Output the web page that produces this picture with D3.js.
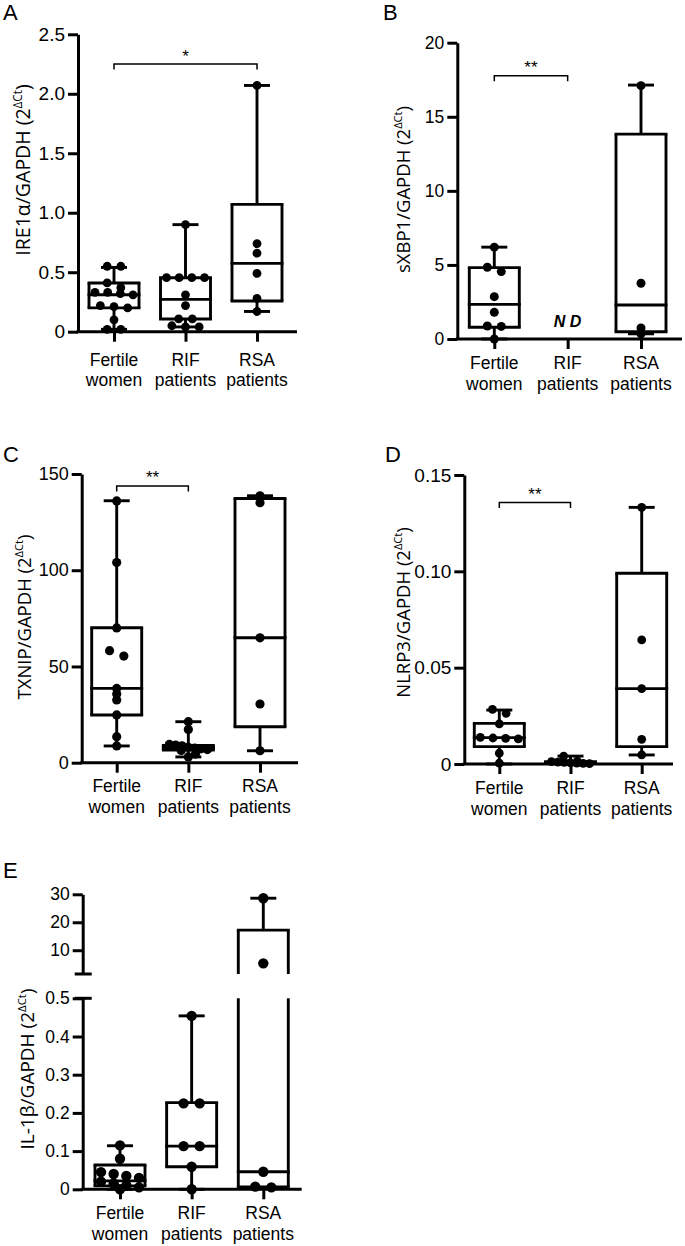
<!DOCTYPE html>
<html>
<head>
<meta charset="utf-8">
<script src="https://cdn.jsdelivr.net/npm/d3@7"></script>
<style>
  html, body { margin: 0; padding: 0; background: #fff; }
  svg { display: block; }
</style>
</head>
<body>
<svg id="chart" width="685" height="1246"></svg>
<script>
// ---------------- DATA ----------------
const categories = ["Fertile women", "RIF patients", "RSA patients"];

// Panel A: IRE1α/GAPDH
const ire1aPoints = [
  [0.55, 0.55, 0.41, 0.37, 0.33, 0.33, 0.32, 0.31, 0.22, 0.21, 0.20, 0.10, 0.02, 0.02],
  [0.90, 0.454, 0.454, 0.454, 0.454, 0.31, 0.22, 0.107, 0.107, 0.05, 0.04, 0.04],
  [2.07, 0.74, 0.66, 0.49, 0.28, 0.17]
];
// [min, q1, median, q3, max]
const ire1aBoxes = [
  [0.02, 0.20, 0.31, 0.41, 0.54],
  [0.04, 0.107, 0.272, 0.454, 0.90],
  [0.17, 0.258, 0.574, 1.07, 2.07]
];
const ire1aTicks = [0, 0.5, 1.0, 1.5, 2.0, 2.5];
const ire1aTickLabels = ["0", "0.5", "1.0", "1.5", "2.0", "2.5"];

// Panel B: sXBP1/GAPDH
const sxbp1Points = [
  [6.2, 4.84, 4.55, 2.86, 1.8, 0.88, 0.85, 0],
  [],
  [17.1, 3.76, 0.75, 0.35]
];
const sxbp1Boxes = [
  [0, 0.79, 2.34, 4.82, 6.2],
  null,
  [0.35, 0.49, 2.3, 13.83, 17.14]
];
const sxbp1Ticks = [0, 5, 10, 15, 20];
const sxbp1TickLabels = ["0", "5", "10", "15", "20"];

// Panel C: TXNIP/GAPDH
const txnipPoints = [
  [136, 104, 70, 58.2, 55.4, 38.6, 35.7, 32.6, 24.8, 13.5, 8.7],
  [21.3, 17.3, 9.5, 9.2, 8.8, 8.0, 7.6, 7.2, 6.8, 6.4, 4.5, 3.0],
  [138.7, 135.1, 64.9, 30.5, 6.2]
];
const txnipBoxes = [
  [8.7, 24.8, 38.6, 70.1, 136.1],
  [3.0, 6.6, 7.6, 9.0, 21.3],
  [6.2, 18.7, 64.9, 137.3, 138.7]
];
const txnipTicks = [0, 50, 100, 150];
const txnipTickLabels = ["0", "50", "100", "150"];

// Panel D: NLRP3/GAPDH
const nlrp3Points = [
  [0.0284, 0.0263, 0.0208, 0.0138, 0.0135, 0.0133, 0.0130, 0.0056, 0.0004],
  [0.0041, 0.0015, 0.0012, 0.0010, 0.0008, 0.0006, 0.0005, 0.0003, 0.0002],
  [0.1332, 0.0644, 0.0391, 0.0128, 0.0047]
];
const nlrp3Boxes = [
  [0.0, 0.009, 0.0137, 0.0211, 0.028],
  [0.0, 0.0003, 0.0008, 0.0012, 0.0041],
  [0.0047, 0.009, 0.0391, 0.099, 0.1332]
];
const nlrp3Ticks = [0, 0.05, 0.10, 0.15];
const nlrp3TickLabels = ["0", "0.05", "0.10", "0.15"];

// Panel E: IL-1β/GAPDH (broken axis)
const il1bPoints = [
  [0.115, 0.08, 0.045, 0.04, 0.035, 0.03, 0.02, 0.015, 0.01, 0.005, 0.0],
  [0.454, 0.225, 0.225, 0.113, 0.113, 0.059, 0.0],
  [28.6, 5.3, 0.046, 0.007, 0.005]
];
const il1bBoxes = [
  [0.0, 0.009, 0.022, 0.0636, 0.114],
  [0.0, 0.059, 0.113, 0.227, 0.454],
  [0.005, 0.006, 0.046, 17.2, 28.6]
];
const il1bLowerTicks = [0, 0.1, 0.2, 0.3, 0.4, 0.5];
const il1bLowerTickLabels = ["0", "0.1", "0.2", "0.3", "0.4", "0.5"];
const il1bUpperTicks = [10, 20, 30];
const il1bUpperTickLabels = ["10", "20", "30"];

// significance brackets: [fromCategoryIndex, toCategoryIndex, value, label]
const ire1aBracket = [0, 2, 2.25, "*"];
const sxbp1Bracket = [0, 1, 17.77, "**"];
const txnipBracket = [0, 1, 143.8, "**"];
const nlrp3Bracket = [0, 1, 0.1357, "**"];

// ---------------- DRAWING ----------------
const svg = d3.select("#chart");
svg.append("rect").attr("width", 685).attr("height", 1246).attr("fill", "#fff");

const SANS = "'Liberation Sans', Arial, sans-serif";
const LABELFONT = "'Open Sans', 'Noto Sans', sans-serif";
const LW = 2.9;

function layoutDots(vals, yPix, cx, r, maxHalf) {
  const pts = vals.map(v => ({ v, py: yPix(v) })).sort((a, b) => a.py - b.py);
  const rows = [];
  let cur = null;
  for (const p of pts) {
    if (!cur || p.py - cur[0].py > r * 1.2) { cur = [p]; rows.push(cur); }
    else cur.push(p);
  }
  rows.forEach(row => {
    const n = row.length;
    const sp = n > 1 ? Math.min(r * 3.1, 2 * maxHalf / (n - 1)) : 0;
    row.forEach((p, i) => { p.px = cx + (i - (n - 1) / 2) * sp; });
  });
  return pts;
}

function styleAxis(sel, fs) {
  sel.select(".domain").attr("stroke", "#000").attr("stroke-width", 3);
  sel.selectAll(".tick line").attr("stroke", "#000").attr("stroke-width", 3);
  sel.selectAll(".tick text").attr("fill", "#000")
    .style("font-family", SANS).style("font-size", fs + "px");
}

function yLabel(g, cfg) {
  const t = g.append("text")
    .attr("transform", `translate(${cfg.ylab[0]},${cfg.ylab[1]}) rotate(-90)`)
    .attr("text-anchor", "middle")
    .style("font-family", LABELFONT)
    .style("font-size", cfg.ylabFs + "px")
    .attr("fill", "#000");
  t.append("tspan").text(cfg.title + " (2");
  t.append("tspan").attr("dy", -8).style("font-size", (cfg.ylabFs * 0.6) + "px").text("ΔCt");
  t.append("tspan").attr("dy", 8).text(")");
}

function commonParts(g, cfg, x, yPix) {
  // panel letter
  g.append("text").attr("x", cfg.letter[0]).attr("y", cfg.letter[1])
    .style("font-family", SANS).style("font-size", "22px").attr("fill", "#000").text(cfg.id);
  // x axis line + ticks
  g.append("line").attr("x1", cfg.axisX - 1.5).attr("x2", cfg.axisRight)
    .attr("y1", cfg.yBottom).attr("y2", cfg.yBottom)
    .attr("stroke", "#000").attr("stroke-width", 3);
  const xAxis = d3.axisBottom(x).tickSize(10).tickSizeOuter(0).tickFormat("");
  const xa = g.append("g").attr("transform", `translate(0,${cfg.yBottom})`).call(xAxis);
  xa.select(".domain").remove();
  xa.selectAll(".tick line").attr("stroke", "#000").attr("stroke-width", 3);
  // category labels
  categories.forEach(c => {
    const parts = c.split(" ");
    const t = g.append("text").attr("text-anchor", "middle")
      .style("font-family", SANS).style("font-size", "17.5px").attr("fill", "#000");
    parts.forEach((p, i) => {
      t.append("tspan").attr("x", x(c)).attr("y", cfg.yBottom + cfg.labelDy + i * 20.5).text(p);
    });
  });
  yLabel(g, cfg);
}

function drawBoxAndDots(g, cfg, x, yPix, vseg, points, boxes) {
  const half = 25, cap = 13;
  categories.forEach((c, i) => {
    const b = boxes[i];
    const cx = x(c);
    if (b) {
      const [mn, q1, med, q3, mx] = b;
      vseg(g, cx, q3, mx);
      vseg(g, cx, mn, q1);
      [mn, mx].forEach(v => {
        g.append("line").attr("x1", cx - cap).attr("x2", cx + cap)
          .attr("y1", yPix(v)).attr("y2", yPix(v))
          .attr("stroke", "#000").attr("stroke-width", LW);
      });
      vseg(g, cx - half, q1, q3, true);
      vseg(g, cx + half, q1, q3, true);
      [q1, med, q3].forEach(v => {
        g.append("line").attr("x1", cx - half - LW / 2).attr("x2", cx + half + LW / 2)
          .attr("y1", yPix(v)).attr("y2", yPix(v))
          .attr("stroke", "#000").attr("stroke-width", LW);
      });
    }
    const pts = layoutDots(points[i], yPix, cx, cfg.r, 19);
    g.selectAll(null).data(pts).enter().append("circle")
      .attr("cx", d => d.px).attr("cy", d => d.py).attr("r", cfg.r).attr("fill", "#000");
  });
}

function bracket(g, x, yPix, br) {
  const [a, b, v, lab] = br;
  const x1 = x(categories[a]), x2 = x(categories[b]), yy = yPix(v);
  g.append("path")
    .attr("d", `M${x1},${yy + 5.5}V${yy}H${x2}V${yy + 5.5}`)
    .attr("fill", "none").attr("stroke", "#000").attr("stroke-width", 1.5);
  g.append("text").attr("x", (x1 + x2) / 2).attr("y", yy - 2.5)
    .attr("text-anchor", "middle").style("font-family", SANS).style("font-size", "17px")
    .attr("fill", "#000").text(lab);
}

function drawPanel(cfg) {
  const g = svg.append("g");
  const x = d3.scalePoint().domain(categories).range([cfg.xFirst, cfg.xLast]);
  const y = d3.scaleLinear().domain(cfg.domain).range([cfg.yBottom, cfg.yTop]);
  const yAxis = d3.axisLeft(y).tickValues(cfg.ticks)
    .tickFormat((d, i) => cfg.tickLabels[i]).tickSize(10).tickSizeOuter(0).tickPadding(3);
  const ya = g.append("g").attr("transform", `translate(${cfg.axisX},0)`).call(yAxis);
  styleAxis(ya, cfg.tickFs);
  commonParts(g, cfg, x, y);
  const vseg = (gg, xx, a, b) => {
    gg.append("line").attr("x1", xx).attr("x2", xx)
      .attr("y1", y(a)).attr("y2", y(b)).attr("stroke", "#000").attr("stroke-width", LW);
  };
  drawBoxAndDots(g, cfg, x, y, vseg, cfg.points, cfg.boxes);
  if (cfg.bracket) bracket(g, x, y, cfg.bracket);
  if (cfg.nd) {
    g.append("text").attr("x", x(categories[cfg.nd])).attr("y", cfg.yBottom - 12.5)
      .attr("text-anchor", "middle").style("font-family", SANS)
      .style("font-size", "16px").style("font-weight", "bold").style("font-style", "italic")
      .attr("fill", "#000").text("N D");
  }
}

drawPanel({
  id: "A", title: "IRE1α/GAPDH", letter: [3, 20], ylab: [30, 170], ylabFs: 19.5,
  axisX: 78, yBottom: 331.7, yTop: 34.3, domain: [0, 2.5],
  xFirst: 114, xLast: 257, axisRight: 297, r: 4.4, tickFs: 19, labelDy: 34,
  ticks: ire1aTicks, tickLabels: ire1aTickLabels,
  points: ire1aPoints, boxes: ire1aBoxes, bracket: ire1aBracket
});
drawPanel({
  id: "B", title: "sXBP1/GAPDH", letter: [383, 20], ylab: [410, 189.5], ylabFs: 18.5,
  axisX: 457.3, yBottom: 339, yTop: 42.7, domain: [0, 20],
  xFirst: 494.3, xLast: 641, axisRight: 682, r: 4.5, tickFs: 17.5, labelDy: 30,
  ticks: sxbp1Ticks, tickLabels: sxbp1TickLabels,
  points: sxbp1Points, boxes: sxbp1Boxes, bracket: sxbp1Bracket, nd: 1
});
drawPanel({
  id: "C", title: "TXNIP/GAPDH", letter: [3, 462], ylab: [31, 617], ylabFs: 18.5,
  axisX: 81.7, yBottom: 762.7, yTop: 474, domain: [0, 150],
  xFirst: 116.7, xLast: 260, axisRight: 298, r: 4.6, tickFs: 18, labelDy: 29.5,
  ticks: txnipTicks, tickLabels: txnipTickLabels,
  points: txnipPoints, boxes: txnipBoxes, bracket: txnipBracket
});
drawPanel({
  id: "D", title: "NLRP3/GAPDH", letter: [385, 462], ylab: [410, 612.5], ylabFs: 18.5,
  axisX: 464.3, yBottom: 764, yTop: 475, domain: [0, 0.15],
  xFirst: 499.3, xLast: 641.7, axisRight: 673, r: 4.4, tickFs: 19, labelDy: 30,
  ticks: nlrp3Ticks, tickLabels: nlrp3TickLabels,
  points: nlrp3Points, boxes: nlrp3Boxes, bracket: nlrp3Bracket
});

// Panel E with broken y axis
(function () {
  const cfg = {
    id: "E", title: "IL-1β/GAPDH", letter: [3, 878], ylab: [34, 1069], ylabFs: 19,
    axisX: 82.7, yBottom: 1189.3, xFirst: 120, xLast: 263.3, axisRight: 301.7,
    r: 5.2, tickFs: 17.5, labelDy: 30
  };
  const lowTop = 998.3, upBottom = 974, upTop = 894.3;
  const g = svg.append("g");
  const x = d3.scalePoint().domain(categories).range([cfg.xFirst, cfg.xLast]);
  const yLow = d3.scaleLinear().domain([0, 0.5]).range([cfg.yBottom, lowTop]);
  const yUp = d3.scaleLinear().domain([1.5, 30]).range([upBottom, upTop]);
  const yPix = v => (v <= 0.5 ? yLow(v) : yUp(v));

  const yaL = g.append("g").attr("transform", `translate(${cfg.axisX},0)`)
    .call(d3.axisLeft(yLow).tickValues(il1bLowerTicks)
      .tickFormat((d, i) => il1bLowerTickLabels[i]).tickSize(10).tickSizeOuter(0).tickPadding(3));
  styleAxis(yaL, cfg.tickFs);
  const yaU = g.append("g").attr("transform", `translate(${cfg.axisX},0)`)
    .call(d3.axisLeft(yUp).tickValues(il1bUpperTicks)
      .tickFormat((d, i) => il1bUpperTickLabels[i]).tickSize(10).tickSizeOuter(0).tickPadding(3));
  styleAxis(yaU, cfg.tickFs);
  [upBottom, lowTop].forEach(yy => {
    g.append("line").attr("x1", cfg.axisX - 8).attr("x2", cfg.axisX + 9)
      .attr("y1", yy).attr("y2", yy).attr("stroke", "#000").attr("stroke-width", 3);
  });
  commonParts(g, cfg, x, yPix);

  const vseg = (gg, xx, a, b) => {
    const line = (y1, y2) => gg.append("line").attr("x1", xx).attr("x2", xx)
      .attr("y1", y1).attr("y2", y2).attr("stroke", "#000").attr("stroke-width", LW);
    if ((a <= 0.5) === (b <= 0.5)) line(yPix(a), yPix(b));
    else { line(yPix(a), lowTop); line(upBottom, yPix(b)); }
  };
  drawBoxAndDots(g, cfg, x, yPix, vseg, il1bPoints, il1bBoxes);
})();
</script>
</body>
</html>
